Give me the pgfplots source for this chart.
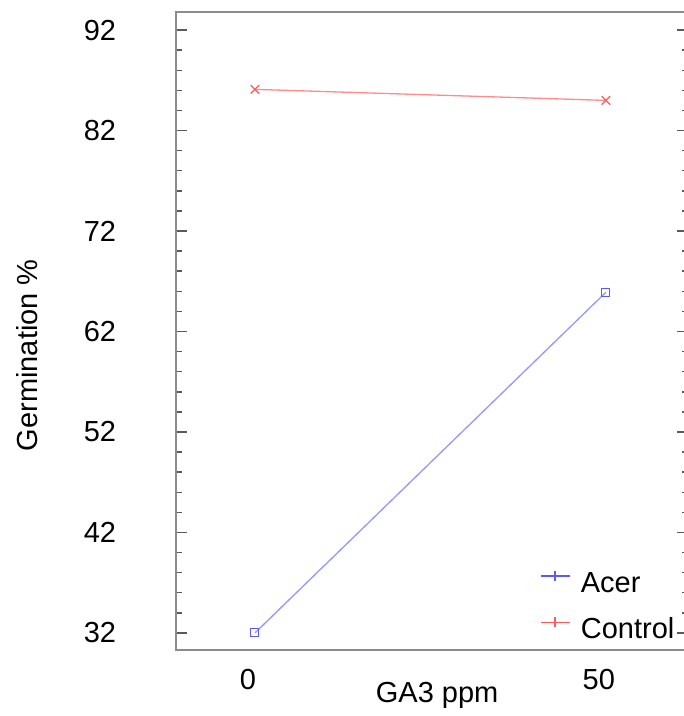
\documentclass[border=0pt]{standalone}
\usepackage{pgfplots}
\pgfplotsset{compat=1.18}
\usepackage{fontspec}
\setmainfont{Liberation Sans}
\definecolor{axgray}{RGB}{140,140,140}
\definecolor{tickgray}{RGB}{90,90,90}
\definecolor{acerline}{RGB}{150,150,255}
\definecolor{acermark}{RGB}{90,90,255}
\definecolor{ctrlline}{RGB}{255,140,140}
\definecolor{ctrlmark}{RGB}{255,90,90}
\begin{document}
\begin{tikzpicture}
\useasboundingbox (-176pt,-66pt) rectangle (508pt,650pt);
\begin{axis}[
  at={(0pt,0pt)}, anchor=south west,
  scale only axis, width=512pt, height=638pt,
  xmin=-11.25, xmax=61.7, ymin=30.3, ymax=93.8,
  xtick={0,50}, ytick={32,42,52,62,72,82,92},
  minor y tick num=4,
  /pgf/number format/assume math mode=true,
  tick label style={font=\fontsize{29}{34}\selectfont},
  axis line style={draw=axgray, line width=2pt},
  every tick/.style={draw=tickgray, line width=1.5pt},
  major tick length=11pt, minor tick length=6pt,
  x tick style={draw=none},
  xtick pos=bottom, ytick pos=both,
  yticklabel pos=left,
  yticklabel style={anchor=center, xshift=-76pt},
  xticklabel style={anchor=center, yshift=-30pt, xshift=-7pt},
  xlabel={GA3 ppm}, ylabel={Germination \%},
  every axis x label/.style={at={(axis description cs:0.51,-0.071)}, anchor=center, font=\fontsize{29}{34}\selectfont},
  every axis y label/.style={at={(axis description cs:-0.29,0.462)}, rotate=90, anchor=center, font=\fontsize{29}{34}\selectfont},
  legend style={at={(axis description cs:0.711,0.126)}, anchor=north west,
    draw=none, fill=none, inner sep=0pt, row sep=24pt, column sep=0pt,
    font=\fontsize{29}{34}\selectfont,
    nodes={inner sep=0pt, text height=22pt, text depth=0pt}},
  legend cell align=left,
]
\addplot[acerline, line width=1.3pt, mark=square, mark size=4pt,
  mark options={draw=acermark, line width=1pt},
  legend image code/.code={
    \draw[acermark, line width=1.3pt] (0pt,5pt) -- (29pt,5pt);
    \draw[acermark, line width=2.5pt] (14pt,0pt) -- (14pt,10pt);
    \path[draw=none] (0pt,0pt) -- (40pt,0pt);}]
  coordinates {(0,32.0) (50,65.9)};
\addlegendentry{Acer}
\addplot[ctrlline, line width=1.3pt, mark=x, mark size=6pt,
  mark options={draw=ctrlmark, line width=1.2pt},
  legend image code/.code={
    \draw[ctrlmark, line width=1.3pt] (0pt,5pt) -- (29pt,5pt);
    \draw[ctrlmark, line width=2.5pt] (14pt,0pt) -- (14pt,10pt);
    \path[draw=none] (0pt,0pt) -- (40pt,0pt);}]
  coordinates {(0,86.1) (50,85.0)};
\addlegendentry{Control}
\end{axis}
\end{tikzpicture}
\end{document}
